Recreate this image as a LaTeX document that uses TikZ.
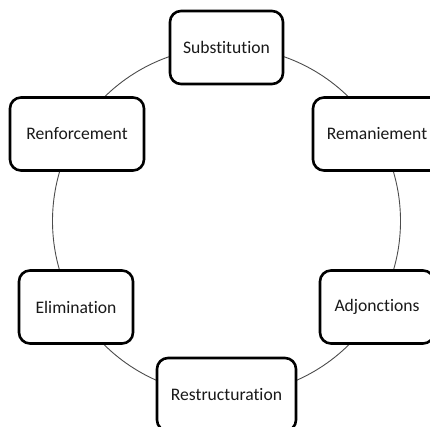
\documentclass[tikz,border=0pt]{standalone}
\usepackage{fontspec}
\setmainfont{Carlito}[Ligatures=NoCommon]
\begin{document}
\begin{tikzpicture}[x=1pt,y=-1pt,
  stage/.style={draw=black,line width=2.6pt,rounded corners=11pt,fill=white,
    minimum height=73pt,inner sep=0pt,font=\fontsize{17.6}{19}\selectfont,text=black!90},
  ring/.style={draw=black!70,line width=0.9pt}]
\useasboundingbox (0,0) rectangle (430,427);
\coordinate (c) at (226.5,221);
\draw[ring] (c) circle[radius=174pt];
\node[stage,minimum width=113pt] (sub) at (226.5,47.5) {Substitution};
\node[stage,minimum width=128pt] (rem) at (377,134) {Remaniement};
\node[stage,minimum width=114pt] (adj) at (377,307) {Adjonctions};
\node[stage,minimum width=139pt] (res) at (226.5,394.5) {Restructuration};
\node[stage,minimum width=114pt] (eli) at (76,307) {Elimination};
\node[stage,minimum width=134pt] (ren) at (77,134) {Renforcement};
\end{tikzpicture}
\end{document}
